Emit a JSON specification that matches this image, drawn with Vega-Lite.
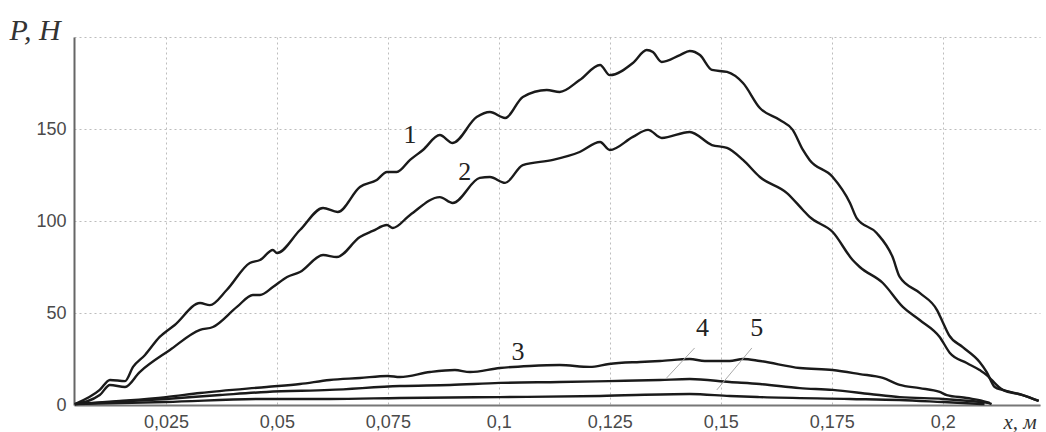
{
  "$schema": "https://vega.github.io/schema/vega-lite/v6.json",
  "width": 966,
  "height": 368,
  "autosize": {"type": "none"},
  "padding": {"left": 74, "top": 37, "right": 6, "bottom": 27},
  "background": "white",
  "config": {"view": {"stroke": null}},
  "datasets": {
    "curves": [
      {"c": 1, "x": 0.0045, "p": 0.5}, {"c": 1, "x": 0.0101, "p": 8.2}, {"c": 1, "x": 0.0124, "p": 13.6}, {"c": 1, "x": 0.0158, "p": 13.0}, {"c": 1, "x": 0.0176, "p": 20.7}, {"c": 1, "x": 0.0203, "p": 27.2}, {"c": 1, "x": 0.0236, "p": 37.0}, {"c": 1, "x": 0.0270, "p": 43.5}, {"c": 1, "x": 0.0327, "p": 55.4}, {"c": 1, "x": 0.0349, "p": 54.3}, {"c": 1, "x": 0.0387, "p": 62.5}, {"c": 1, "x": 0.0439, "p": 77.2}, {"c": 1, "x": 0.0462, "p": 78.8}, {"c": 1, "x": 0.0491, "p": 84.2}, {"c": 1, "x": 0.0500, "p": 82.6}, {"c": 1, "x": 0.0552, "p": 95.1}, {"c": 1, "x": 0.0604, "p": 107.1}, {"c": 1, "x": 0.0637, "p": 104.9}, {"c": 1, "x": 0.0687, "p": 118.5}, {"c": 1, "x": 0.0725, "p": 122.3}, {"c": 1, "x": 0.0748, "p": 126.6}, {"c": 1, "x": 0.0770, "p": 126.6}, {"c": 1, "x": 0.0800, "p": 133.2}, {"c": 1, "x": 0.0829, "p": 138.6}, {"c": 1, "x": 0.0867, "p": 146.7}, {"c": 1, "x": 0.0896, "p": 142.4}, {"c": 1, "x": 0.0950, "p": 156.5}, {"c": 1, "x": 0.0980, "p": 159.2}, {"c": 1, "x": 0.1014, "p": 156.0}, {"c": 1, "x": 0.1054, "p": 167.4}, {"c": 1, "x": 0.1108, "p": 171.2}, {"c": 1, "x": 0.1137, "p": 170.1}, {"c": 1, "x": 0.1182, "p": 176.6}, {"c": 1, "x": 0.1228, "p": 184.8}, {"c": 1, "x": 0.1250, "p": 179.3}, {"c": 1, "x": 0.1302, "p": 185.9}, {"c": 1, "x": 0.1333, "p": 192.9}, {"c": 1, "x": 0.1347, "p": 191.8}, {"c": 1, "x": 0.1367, "p": 186.4}, {"c": 1, "x": 0.1408, "p": 190.2}, {"c": 1, "x": 0.1430, "p": 192.4}, {"c": 1, "x": 0.1453, "p": 190.2}, {"c": 1, "x": 0.1480, "p": 182.1}, {"c": 1, "x": 0.1514, "p": 181.0}, {"c": 1, "x": 0.1550, "p": 175.0}, {"c": 1, "x": 0.1588, "p": 161.4}, {"c": 1, "x": 0.1633, "p": 154.9}, {"c": 1, "x": 0.1662, "p": 149.5}, {"c": 1, "x": 0.1685, "p": 138.6}, {"c": 1, "x": 0.1700, "p": 133.2}, {"c": 1, "x": 0.1752, "p": 123.9}, {"c": 1, "x": 0.1791, "p": 109.8}, {"c": 1, "x": 0.1806, "p": 101.6}, {"c": 1, "x": 0.1851, "p": 93.5}, {"c": 1, "x": 0.1887, "p": 80.4}, {"c": 1, "x": 0.1903, "p": 69.6}, {"c": 1, "x": 0.1948, "p": 60.9}, {"c": 1, "x": 0.1987, "p": 51.6}, {"c": 1, "x": 0.2000, "p": 45.0}, {"c": 1, "x": 0.2014, "p": 38.0}, {"c": 1, "x": 0.2045, "p": 31.5}, {"c": 1, "x": 0.2083, "p": 23.4}, {"c": 1, "x": 0.2099, "p": 17.9}, {"c": 1, "x": 0.2117, "p": 9.8}, {"c": 1, "x": 0.2135, "p": 8.2}, {"c": 1, "x": 0.2180, "p": 5.4}, {"c": 1, "x": 0.2216, "p": 2.2},
      {"c": 2, "x": 0.0045, "p": 0.5}, {"c": 2, "x": 0.0101, "p": 5.4}, {"c": 2, "x": 0.0124, "p": 10.9}, {"c": 2, "x": 0.0158, "p": 9.8}, {"c": 2, "x": 0.0191, "p": 17.9}, {"c": 2, "x": 0.0259, "p": 29.9}, {"c": 2, "x": 0.0327, "p": 40.8}, {"c": 2, "x": 0.0356, "p": 42.4}, {"c": 2, "x": 0.0410, "p": 53.3}, {"c": 2, "x": 0.0446, "p": 59.8}, {"c": 2, "x": 0.0462, "p": 59.8}, {"c": 2, "x": 0.0491, "p": 64.1}, {"c": 2, "x": 0.0523, "p": 69.6}, {"c": 2, "x": 0.0552, "p": 72.3}, {"c": 2, "x": 0.0604, "p": 81.5}, {"c": 2, "x": 0.0635, "p": 80.4}, {"c": 2, "x": 0.0687, "p": 91.3}, {"c": 2, "x": 0.0716, "p": 94.6}, {"c": 2, "x": 0.0748, "p": 97.8}, {"c": 2, "x": 0.0761, "p": 96.2}, {"c": 2, "x": 0.0800, "p": 103.3}, {"c": 2, "x": 0.0867, "p": 113.0}, {"c": 2, "x": 0.0896, "p": 109.8}, {"c": 2, "x": 0.0957, "p": 123.4}, {"c": 2, "x": 0.0980, "p": 123.9}, {"c": 2, "x": 0.1014, "p": 120.7}, {"c": 2, "x": 0.1054, "p": 130.4}, {"c": 2, "x": 0.1122, "p": 133.2}, {"c": 2, "x": 0.1182, "p": 137.5}, {"c": 2, "x": 0.1228, "p": 142.9}, {"c": 2, "x": 0.1250, "p": 138.6}, {"c": 2, "x": 0.1302, "p": 145.7}, {"c": 2, "x": 0.1336, "p": 149.5}, {"c": 2, "x": 0.1367, "p": 145.1}, {"c": 2, "x": 0.1430, "p": 148.4}, {"c": 2, "x": 0.1480, "p": 141.3}, {"c": 2, "x": 0.1514, "p": 139.7}, {"c": 2, "x": 0.1550, "p": 133.2}, {"c": 2, "x": 0.1588, "p": 123.9}, {"c": 2, "x": 0.1649, "p": 115.2}, {"c": 2, "x": 0.1685, "p": 106.0}, {"c": 2, "x": 0.1700, "p": 102.2}, {"c": 2, "x": 0.1752, "p": 94.0}, {"c": 2, "x": 0.1797, "p": 78.8}, {"c": 2, "x": 0.1813, "p": 75.0}, {"c": 2, "x": 0.1865, "p": 66.3}, {"c": 2, "x": 0.1910, "p": 53.3}, {"c": 2, "x": 0.1948, "p": 46.2}, {"c": 2, "x": 0.1993, "p": 37.0}, {"c": 2, "x": 0.2016, "p": 28.3}, {"c": 2, "x": 0.2054, "p": 22.8}, {"c": 2, "x": 0.2083, "p": 19.0}, {"c": 2, "x": 0.2099, "p": 16.3}, {"c": 2, "x": 0.2110, "p": 13.6}, {"c": 2, "x": 0.2135, "p": 8.2}, {"c": 2, "x": 0.2180, "p": 5.4}, {"c": 2, "x": 0.2216, "p": 2.2},
      {"c": 3, "x": 0.0045, "p": 0.5}, {"c": 3, "x": 0.0146, "p": 2.2}, {"c": 3, "x": 0.0250, "p": 4.3}, {"c": 3, "x": 0.0327, "p": 6.5}, {"c": 3, "x": 0.0477, "p": 9.8}, {"c": 3, "x": 0.0552, "p": 11.4}, {"c": 3, "x": 0.0619, "p": 13.6}, {"c": 3, "x": 0.0687, "p": 14.7}, {"c": 3, "x": 0.0750, "p": 15.8}, {"c": 3, "x": 0.0777, "p": 15.2}, {"c": 3, "x": 0.0845, "p": 17.9}, {"c": 3, "x": 0.0901, "p": 19.0}, {"c": 3, "x": 0.0935, "p": 17.9}, {"c": 3, "x": 0.1002, "p": 20.1}, {"c": 3, "x": 0.1070, "p": 21.2}, {"c": 3, "x": 0.1137, "p": 21.7}, {"c": 3, "x": 0.1205, "p": 20.7}, {"c": 3, "x": 0.1248, "p": 22.3}, {"c": 3, "x": 0.1318, "p": 23.4}, {"c": 3, "x": 0.1363, "p": 23.9}, {"c": 3, "x": 0.1430, "p": 25.0}, {"c": 3, "x": 0.1464, "p": 23.9}, {"c": 3, "x": 0.1520, "p": 23.9}, {"c": 3, "x": 0.1550, "p": 25.0}, {"c": 3, "x": 0.1588, "p": 23.9}, {"c": 3, "x": 0.1678, "p": 20.1}, {"c": 3, "x": 0.1752, "p": 19.0}, {"c": 3, "x": 0.1813, "p": 16.8}, {"c": 3, "x": 0.1865, "p": 14.7}, {"c": 3, "x": 0.1903, "p": 10.9}, {"c": 3, "x": 0.1948, "p": 9.2}, {"c": 3, "x": 0.1993, "p": 7.1}, {"c": 3, "x": 0.2009, "p": 5.4}, {"c": 3, "x": 0.2054, "p": 3.8}, {"c": 3, "x": 0.2099, "p": 1.6}, {"c": 3, "x": 0.2110, "p": 0.5},
      {"c": 4, "x": 0.0045, "p": 0.5}, {"c": 4, "x": 0.0250, "p": 3.3}, {"c": 4, "x": 0.0372, "p": 5.4}, {"c": 4, "x": 0.0477, "p": 7.1}, {"c": 4, "x": 0.0619, "p": 8.2}, {"c": 4, "x": 0.0777, "p": 10.3}, {"c": 4, "x": 0.0890, "p": 10.9}, {"c": 4, "x": 0.1002, "p": 12.0}, {"c": 4, "x": 0.1137, "p": 12.5}, {"c": 4, "x": 0.1248, "p": 13.0}, {"c": 4, "x": 0.1363, "p": 13.6}, {"c": 4, "x": 0.1430, "p": 14.1}, {"c": 4, "x": 0.1520, "p": 12.5}, {"c": 4, "x": 0.1588, "p": 11.4}, {"c": 4, "x": 0.1678, "p": 9.2}, {"c": 4, "x": 0.1752, "p": 8.2}, {"c": 4, "x": 0.1836, "p": 6.0}, {"c": 4, "x": 0.1903, "p": 4.3}, {"c": 4, "x": 0.2000, "p": 3.3}, {"c": 4, "x": 0.2061, "p": 2.2}, {"c": 4, "x": 0.2106, "p": 1.1},
      {"c": 5, "x": 0.0045, "p": 0.5}, {"c": 5, "x": 0.0250, "p": 1.6}, {"c": 5, "x": 0.0477, "p": 3.3}, {"c": 5, "x": 0.0619, "p": 3.3}, {"c": 5, "x": 0.0777, "p": 3.8}, {"c": 5, "x": 0.1002, "p": 4.3}, {"c": 5, "x": 0.1228, "p": 4.9}, {"c": 5, "x": 0.1430, "p": 6.0}, {"c": 5, "x": 0.1520, "p": 4.9}, {"c": 5, "x": 0.1588, "p": 4.3}, {"c": 5, "x": 0.1791, "p": 3.3}, {"c": 5, "x": 0.1903, "p": 2.7}, {"c": 5, "x": 0.2000, "p": 1.6}, {"c": 5, "x": 0.2094, "p": 0.5}
    ],
    "labels": [
      {"t": "1", "x": 0.0800, "p": 146.7},
      {"t": "2", "x": 0.0923, "p": 126.6},
      {"t": "3", "x": 0.1043, "p": 28.8},
      {"t": "4", "x": 0.1459, "p": 41.8},
      {"t": "5", "x": 0.1581, "p": 41.8}
    ],
    "leaders": [
      {"x": 0.1441, "p": 31.0, "x2": 0.1378, "p2": 14.7},
      {"x": 0.1570, "p": 31.0, "x2": 0.1491, "p2": 8.2}
    ]
  },
  "layer": [
    {
      "data": {"name": "curves"},
      "mark": {"type": "line", "color": "#1a1a1a", "strokeWidth": 2.4, "strokeJoin": "round", "interpolate": "monotone"},
      "encoding": {
        "x": {
          "field": "x", "type": "quantitative",
          "scale": {"domain": [0.0043, 0.2219], "nice": false, "zero": false},
          "axis": {
            "values": [0.025, 0.05, 0.075, 0.1, 0.125, 0.15, 0.175, 0.2],
            "format": ".3~f",
            "labelExpr": "replace(datum.label, '.', ',')",
            "grid": true, "gridColor": "#bdbdbd", "gridDash": [2, 3], "gridWidth": 1,
            "ticks": false,
            "domainColor": "#777", "domainWidth": 2,
            "labelFont": "Liberation Sans", "labelFontSize": 18, "labelColor": "#4a4a4a", "labelPadding": 8,
            "labelFlush": false,
            "title": "x, м",
            "titleFont": "Liberation Serif", "titleFontSize": 21, "titleFontStyle": "italic", "titleFontWeight": "normal", "titleColor": "#333",
            "titleX": 929, "titleY": 23, "titleAlign": "left", "titleBaseline": "alphabetic", "titleAnchor": null
          }
        },
        "y": {
          "field": "p", "type": "quantitative",
          "scale": {"domain": [0, 200], "nice": false},
          "axis": {
            "values": [0, 50, 100, 150, 200],
            "labelExpr": "datum.value == 200 ? '' : datum.label",
            "grid": true, "gridColor": "#bdbdbd", "gridDash": [2, 3], "gridWidth": 1,
            "ticks": false,
            "domainColor": "#666", "domainWidth": 2,
            "labelFont": "Liberation Sans", "labelFontSize": 18, "labelColor": "#4a4a4a", "labelPadding": 8,
            "labelFlush": false,
            "title": "P, Н",
            "titleFont": "Liberation Serif", "titleFontSize": 30, "titleFontStyle": "italic", "titleFontWeight": "normal", "titleColor": "#333",
            "titleLimit": 200,
            "titleAngle": 0, "titleX": -65, "titleY": 2, "titleAlign": "left", "titleBaseline": "alphabetic", "titleAnchor": null
          }
        },
        "detail": {"field": "c", "type": "nominal"}
      }
    },
    {
      "mark": {"type": "rule", "color": "#888", "strokeWidth": 1.5},
      "encoding": {"x": {"datum": 0.2219, "type": "quantitative"}}
    },
    {
      "data": {"name": "leaders"},
      "mark": {"type": "rule", "color": "#aaa", "strokeWidth": 1},
      "encoding": {
        "x": {"field": "x", "type": "quantitative"},
        "y": {"field": "p", "type": "quantitative"},
        "x2": {"field": "x2"},
        "y2": {"field": "p2"}
      }
    },
    {
      "data": {"name": "labels"},
      "mark": {"type": "text", "font": "Liberation Serif", "fontSize": 26, "color": "#222", "align": "center", "baseline": "middle"},
      "encoding": {
        "x": {"field": "x", "type": "quantitative"},
        "y": {"field": "p", "type": "quantitative"},
        "text": {"field": "t"}
      }
    }
  ]
}
